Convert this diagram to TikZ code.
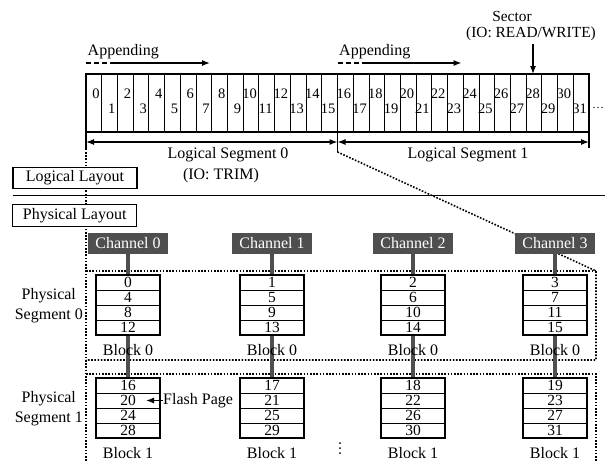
\documentclass[tikz,border=0pt]{standalone}
\usepackage{fontspec}
\setmainfont{Liberation Serif}
\usetikzlibrary{arrows.meta}
\definecolor{chgray}{HTML}{4F4F4F}
\begin{document}
\begin{tikzpicture}[x=1pt, y=-1pt, >={Latex[length=8pt,width=6pt]},
    lbl/.style={font=\fontsize{16}{20}\selectfont, inner sep=0pt},
    num/.style={font=\fontsize{14.5}{14.5}\selectfont, inner sep=0pt},
    chan/.style={fill=chgray, text=white, minimum width=80, minimum height=21, inner sep=0pt, font=\fontsize{16}{16}\selectfont},
    tag/.style={draw, fill=white, line width=1.2, minimum width=124, minimum height=21.5, inner sep=0pt, font=\fontsize{16}{16}\selectfont},
    segline/.style={line width=1.6, dash pattern=on 1.6pt off 1.6pt},
    bus/.style={chgray, line width=4}]
    \useasboundingbox (0,0) rectangle (605,461);
    % segment mapping
    \draw[segline] (86,152) -- (86,461);
    \draw[segline] (337.5,152) -- (596,271) -- (596,360) -- (86,360);
    \draw[segline] (86,271) -- (596,271);
    \draw[segline] (86,374) -- (596,374) -- (596,461);
    % logical strip
    \foreach \i in {1,...,31} \draw[line width=0.9] ({86+\i*15.72},74) -- ++(0,58);
    \draw[line width=1.5] (337.5,74) -- (337.5,132);
    \draw[line width=1.8] (86,74) rectangle (589,132);
    \foreach \i in {0,...,31} {
        \pgfmathsetmacro\yy{94+15*mod(\i,2)}
        \node[num, anchor=east] (n\i) at ({86+\i*15.72+13.8},\yy) {\i};
    }
    \node[lbl, font=\fontsize{12}{12}\selectfont, anchor=base west] (more) at (592,108) {\dots};
    \draw[line width=1.2] (86,132) -- (86,150) (337.5,132) -- (337.5,152) (589,132) -- (589,148);
    \draw[line width=1.2, <->] (86,142) -- (337.5,142);
    \draw[line width=1.2, <->] (337.5,142) -- (589,142);
    \node[lbl] (ls0) at (228,155) {Logical Segment 0};
    \node[lbl] (io0) at (221,176) {(IO: TRIM)};
    \node[lbl] (ls1) at (468,155) {Logical Segment 1};
    % appending
    \foreach \x in {86,337.5} {
        \node[lbl, anchor=base west] (ap\x) at (\x+1.5,55) {Appending};
        \draw[line width=1.2, dash pattern=on 5pt off 3pt] (\x,63) -- (\x+26,63);
        \draw[line width=1.2, ->] (\x+26,63) -- (\x+124,63);
    }
    \node[lbl, font=\fontsize{15.4}{15.4}\selectfont] (sec) at (512,16.5) {Sector};
    \node[lbl, font=\fontsize{15.4}{15.4}\selectfont] (rw) at (531,34) {(IO: READ/WRITE)};
    \draw[line width=1.2, ->] (533,44) -- (533,74);
    % layouts
    \draw[line width=1] (12.7,195.7) -- (605,195.7);
    \node[tag] (ll) at (75,178) {Logical Layout};
    \node[tag] (pl) at (74.7,215.5) {Physical Layout};
    % channels and blocks
    \foreach \i/\x in {0/128,1/272,2/413,3/555} {
        \node[chan] (ch\i) at (\x,243.5) {Channel \i};
        \draw[bus] (ch\i.south) -- (\x,275) (\x,335) -- (\x,378);
        \foreach \t/\b in {275/0,378/1} {
            \foreach \r in {1,2,3} \draw[line width=0.9] (\x-32,\t+15*\r) -- ++(64,0);
            \draw[line width=1.8] (\x-32,\t) rectangle ++(64,60);
            \foreach \r in {0,...,3} {
                \pgfmathtruncatemacro\pg{16*\b+4*\r+\i}
                \node[num, font=\fontsize{15.5}{15.5}\selectfont] (p\pg) at (\x,\t+7.5+15*\r) {\pg};
            }
            \node[lbl] (bk\i-\b) at (\x,\t+75) {Block \b};
        }
    }
    \node[lbl, align=center, anchor=east] (ps0) at (83,306) {Physical\\Segment 0};
    \node[lbl, align=center, anchor=east] (ps1) at (83,409) {Physical\\Segment 1};
    \coordinate (fpt) at (146,400.5);
    \node[lbl, anchor=west] (fp) at (163,400.5) {Flash Page};
    \draw[line width=1.2, ->] (fp.west) -- (fpt);
    \foreach \y in {443,448,453} \fill (340,\y) circle (1);
\end{tikzpicture}
\end{document}
